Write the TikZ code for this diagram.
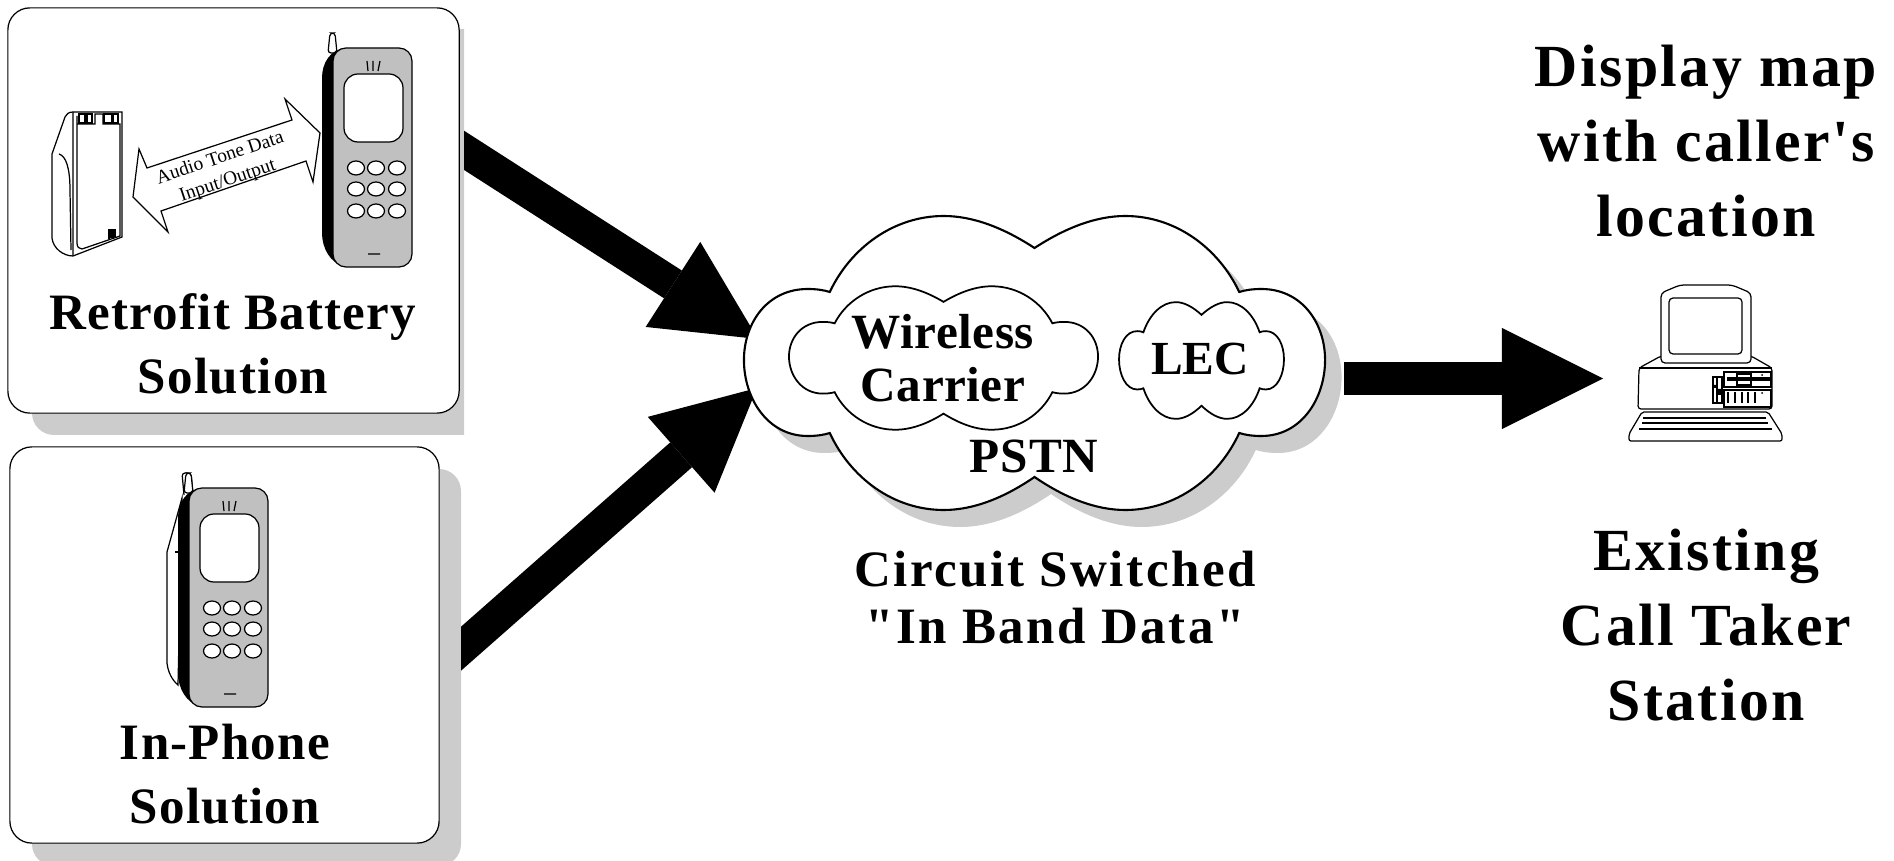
\documentclass[tikz,border=0pt]{standalone}
\usepackage{fontspec}
\newfontfamily\labelfont{Liberation Serif}
\usetikzlibrary{arrows.meta}
\definecolor{shadowgray}{HTML}{CCCCCC}
\definecolor{phonegray}{HTML}{C0C0C0}
\tikzset{
	panel/.style={draw, fill=white, rounded corners=.22cm, line width=.35pt, inner sep=0pt},
	bigarrow/.style={line width=.33cm, -{Triangle[length=1.01cm,width=1.01cm,line width=0pt]}},
	caption/.style 2 args={inner sep=0pt, align=center, font=\labelfont\bfseries\fontsize{#1}{#2}\selectfont},
	tracked/.style={execute at begin node=\addfontfeature{LetterSpace=#1}},
	thin line/.style={line width=.35pt},
	cloudshape/.pic={
		\path[pic actions] (0,-115)
			.. controls (-25,-135) and (-50,-147) .. (-74,-147)
			.. controls (-115,-147) and (-150,-115) .. (-167,-71)
			.. controls (-172,-73) and (-178,-74) .. (-185,-74)
			.. controls (-218,-74) and (-237,-40) .. (-237,-3)
			.. controls (-237,35) and (-218,73) .. (-185,73)
			.. controls (-178,73) and (-172,72) .. (-167,70)
			.. controls (-150,115) and (-115,147) .. (-74,147)
			.. controls (-50,147) and (-25,135) .. (0,114)
			.. controls (25,135) and (50,147) .. (74,147)
			.. controls (115,147) and (150,115) .. (167,70)
			.. controls (172,72) and (178,73) .. (185,73)
			.. controls (218,73) and (237,35) .. (237,-3)
			.. controls (237,-40) and (218,-74) .. (185,-74)
			.. controls (178,-74) and (172,-73) .. (167,-71)
			.. controls (150,-115) and (115,-147) .. (74,-147)
			.. controls (50,-147) and (25,-135) .. (0,-115) -- cycle;
	},
	cellphone/.pic={
		\draw[thin line, fill=white, rounded corners=.03cm] (-5,5) -- (-3,-15) -- (2,-15) -- (4,5) -- cycle;
		\fill (12,0) .. controls (-3,2) and (-11,15) .. (-11,30) -- (-11,185) .. controls (-11,200) and (-3,215) .. (12,219) -- cycle;
		\draw[thin line, fill=phonegray, rounded corners=.13cm] (0,0) rectangle (79,219);
		\draw[thin line, fill=white, rounded corners=.14cm] (11,26) rectangle (70,94);
		\draw[thin line] (34,13) -- (35,23) (40,13) -- (40,23) (47,13) -- (45,23) (35,206) -- (47,206);
		\draw[thin line, fill=white] (23,120) ellipse [x radius=8.5, y radius=7];
		\draw[thin line, fill=white] (43,120) ellipse [x radius=8.5, y radius=7];
		\draw[thin line, fill=white] (64,120) ellipse [x radius=8.5, y radius=7];
		\draw[thin line, fill=white] (23,141) ellipse [x radius=8.5, y radius=7];
		\draw[thin line, fill=white] (43,141) ellipse [x radius=8.5, y radius=7];
		\draw[thin line, fill=white] (64,141) ellipse [x radius=8.5, y radius=7];
		\draw[thin line, fill=white] (23,163) ellipse [x radius=8.5, y radius=7];
		\draw[thin line, fill=white] (43,163) ellipse [x radius=8.5, y radius=7];
		\draw[thin line, fill=white] (64,163) ellipse [x radius=8.5, y radius=7];
	},
}
\begin{document}
\begin{tikzpicture}[x=.01cm, y=-.01cm]
	\useasboundingbox (0,0) rectangle (1894,861);

	\begin{scope}
		\clip (0,0) rectangle (464,435);
		\fill[shadowgray, rounded corners=.22cm] (32,29) rectangle (500,435);
	\end{scope}
	\begin{scope}
		\clip (0,440) rectangle (480,861);
		\fill[shadowgray, rounded corners=.22cm] (32,469) rectangle (461,866);
	\end{scope}

	\node (retrofit) at (233.5,210.5) [panel, minimum width=4.51cm, minimum height=4.05cm] {};
	\node (inphone) at (224.5,645) [panel, minimum width=4.29cm, minimum height=3.96cm] {};

	\coordinate (retrofitout) at (430,128.5);
	\coordinate (inphoneout) at (430,676);
	\coordinate (cloudupper) at (758,339);
	\coordinate (cloudlower) at (757,388);
	\coordinate (cloudeast) at (1344,378.5);
	\coordinate (station) at (1603,378.5);

	\begin{scope}
		\clip (464,0) rectangle (900,861);
		\draw (retrofitout) edge[bigarrow] (cloudupper);
	\end{scope}
	\begin{scope}
		\clip (461,0) rectangle (900,861);
		\draw (inphoneout) edge[bigarrow] (cloudlower);
	\end{scope}

	\pic[fill=shadowgray, xscale=1.226] at (1051,380) {cloudshape};
	\pic[fill=white, draw, line width=.6pt, xscale=1.226] at (1034.5,363) {cloudshape};
	\pic[fill=white, draw, line width=.5pt, xscale=.652, yscale=.488] at (943.5,358) {cloudshape};
	\pic[fill=white, draw, line width=.5pt, xscale=.348, yscale=.397] at (1201.5,360.5) {cloudshape};

	\draw (cloudeast) edge[bigarrow] (station);

	% battery
	\draw[thin line, fill=white] (122,112) -- (73,112) .. controls (69,112) and (66,114) .. (65,117) -- (52,154) -- (52,238) .. controls (53,248) and (63,256) .. (73,256) -- (122,237) -- cycle;
	\draw[thin line] (73,112) -- (73,256) (77,116) -- (77,243) .. controls (77,247) and (79,249) .. (82,249) -- (120,236) -- (120,124) -- (103,124) -- (103,114) -- (95,114) -- (95,124) -- (77,124);
	\draw[thin line] (59,154) .. controls (66,156) and (70,168) .. (70,190) -- (71,250);
	\draw[thin line] (79,114) rectangle (85,123) (87,114) rectangle (92,123) (104,114) rectangle (112,123) (113,114) rectangle (118,123);
	\draw[thin line] (109,229) -- (109,239) (111,229) -- (111,238) (113,229) -- (113,238) (115,229) -- (115,237);

	% audio arrow
	\draw[thin line, fill=white] (133,197) -- (139,149) -- (147,168) -- (292,120) -- (285,99) -- (320,133) -- (313,182) -- (306,161) -- (161,211) -- (168,232) -- cycle;
	\node (audio) at (224,170) [inner sep=0pt, rotate=18.5, align=center, font=\labelfont\fontsize{5.5}{6.8}\selectfont] {Audio Tone Data\\Input/Output};

	\pic at (333,48) {cellphone};

	\draw[thin line, fill=white] (182,498) -- (167,552) -- (167,663) .. controls (168,672) and (172,680) .. (178,685) -- cycle;
	\draw[thin line, fill=white, rounded corners=.03cm] (184,495) -- (182,473) -- (191,473) -- (193,495);
	\draw[thin line] (175,552) -- (178,552);
	\pic at (189,488) {cellphone};

	% computer
	\draw[thin line, fill=white, rounded corners=.03cm] (1639,368) -- (1661,356) -- (1751,356) -- (1772,368) -- (1772,409) -- (1638,409) -- cycle;
	\draw[thin line] (1639,368) -- (1772,368);
	\draw[thin line, fill=white, rounded corners=.04cm] (1661,293) -- (1680,285) -- (1732,285) -- (1751,293) -- (1751,363) -- (1661,363) -- cycle;
	\draw[thin line, rounded corners=.04cm] (1669,298) rectangle (1742,354);
	\draw[thin line] (1724,372) rectangle (1771,387) (1724,390) rectangle (1771,407);
	\draw[thin line] (1727,378) -- (1770,378) (1727,380) -- (1770,380) (1737,374) rectangle (1751,385);
	\draw[thin line] (1728,392) -- (1728,403) (1735,392) -- (1735,403) (1742,392) -- (1742,403) (1748,392) -- (1748,403) (1755,392) -- (1755,403);
	\fill (1762,375) circle [radius=1] (1762,393) circle [radius=1];
	\draw[thin line] (1713,377) rectangle (1722,403) (1717,377) -- (1717,403);
	\fill (1714,385) rectangle (1717,388) (1718,389) rectangle (1721,395);
	\draw[thin line, fill=white, rounded corners=.02cm] (1642,412) -- (1768,412) -- (1782,434) -- (1782,441) -- (1629,441) -- (1629,434) -- cycle;
	\draw[thin line] (1643,418) -- (1766,418) (1642,423) -- (1768,423) (1639,429) -- (1772,429);

	% labels
	\node (retrofittext) at (233,344) [caption={14.5pt}{18.4pt}, tracked=2.5] {Retrofit Battery\\Solution};
	\node (inphonetext) at (225,774) [caption={14.5pt}{18.4pt}, tracked=2.5] {In-Phone\\Solution};
	\node (wirelesstext) at (943,358) [caption={14pt}{15.2pt}, tracked=1] {Wireless\\Carrier};
	\node (lectext) at (1200,359) [caption={13.5pt}{15pt}] {LEC};
	\node (pstntext) at (1034,456) [caption={14pt}{15pt}, tracked=2] {PSTN};
	\node (circuittext) at (1055,598) [caption={14.5pt}{16.2pt}, tracked=5] {Circuit Switched\\"In Band Data"};
	\node (displaytext) at (1706,141) [caption={17pt}{21.3pt}, tracked=4] {Display map\\with caller's\\location};
	\node (existingtext) at (1706,625) [caption={17pt}{21.3pt}, tracked=4] {Existing\\Call Taker\\Station};
\end{tikzpicture}
\end{document}
